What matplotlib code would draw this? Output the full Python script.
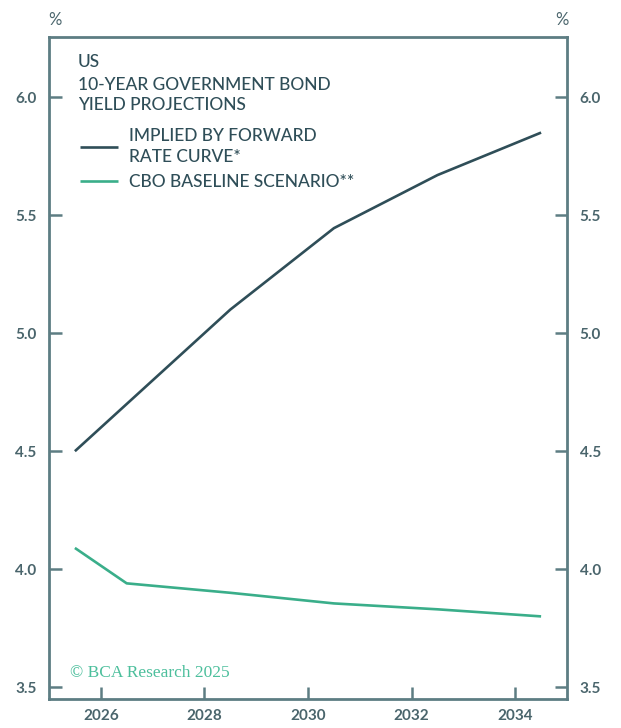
import matplotlib
matplotlib.use("Agg")
import matplotlib.pyplot as plt

# data (mid-year points)
years_fwd = [2025.5, 2026.5, 2028.5, 2030.5, 2032.5, 2034.5]
implied_fwd = [4.50, 4.70, 5.10, 5.445, 5.67, 5.85]
years_cbo = [2025.5, 2026.5, 2028.5, 2030.5, 2032.5, 2034.5]
cbo_base = [4.09, 3.94, 3.90, 3.855, 3.83, 3.80]

xticks = [2026, 2028, 2030, 2032, 2034]
yticks = [3.5, 4.0, 4.5, 5.0, 5.5, 6.0]

dark = "#2f4e58"
green = "#3aae8a"
axcol = "#5d7d83"
txtcol = "#4a656c"

plt.rcParams['font.family'] = ['Lato', 'DejaVu Sans']

fig = plt.figure(figsize=(6.21, 7.28), dpi=100)
W, H = 621, 728
ax = fig.add_axes([49/W, 1-699/H, (567-49)/W, (699-37)/H])

l1, = ax.plot(years_fwd, implied_fwd, color=dark, lw=1.9, solid_capstyle='butt')
l2, = ax.plot(years_cbo, cbo_base, color=green, lw=1.9, solid_capstyle='butt')

ax.set_xlim(2025, 2035)
ax.set_ylim(3.45, 6.255)
ax.set_xticks(xticks)
ax.set_xticklabels([str(x) for x in xticks])
ax.set_yticks(yticks)
ax.set_yticklabels(["%.1f" % y for y in yticks])

for s in ax.spines.values():
    s.set_color(axcol)
    s.set_linewidth(2.0)

ax.tick_params(axis='y', direction='in', length=9, width=1.8, color=axcol,
               left=True, right=True, labelleft=True, labelright=True,
               labelsize=11, labelcolor=txtcol, pad=9)
ax.tick_params(axis='x', direction='in', length=9, width=1.8, color=axcol,
               labelsize=11, labelcolor=txtcol, pad=7)
for lab in ax.get_xticklabels() + ax.get_yticklabels():
    lab.set_fontweight('bold')

fig.text(55/W, 1-20/H, "%", ha='center', va='center', fontsize=12, color=txtcol)
fig.text(562/W, 1-20/H, "%", ha='center', va='center', fontsize=12, color=txtcol)

tkw = dict(ha='left', va='center', fontsize=12.5, color=dark, fontweight='medium')
fig.text(78/W, 1-62/H, "US", **tkw)
fig.text(78/W, 1-85/H, "10-YEAR GOVERNMENT BOND", **tkw)
fig.text(78/W, 1-105/H, "YIELD PROJECTIONS", **tkw)

leg = ax.legend([l1, l2], ["IMPLIED BY FORWARD\nRATE CURVE*", "CBO BASELINE SCENARIO**"],
                loc='upper left', bbox_to_anchor=(80/W, 1-128/H),
                bbox_transform=fig.transFigure, frameon=False,
                handlelength=2.2, handletextpad=0.6, borderpad=0,
                borderaxespad=0, labelspacing=0.55,
                prop={'size': 12.5, 'weight': 'medium'})
for t in leg.get_texts():
    t.set_color(dark)
    t.set_linespacing(1.35)

fig.text(70/W, 1-673/H, "\u00a9 BCA Research 2025", ha='left', va='center',
         fontsize=12.5, color="#4cbf9c", family=['Liberation Serif', 'DejaVu Serif'])

fig.savefig("out.png", dpi=100)
